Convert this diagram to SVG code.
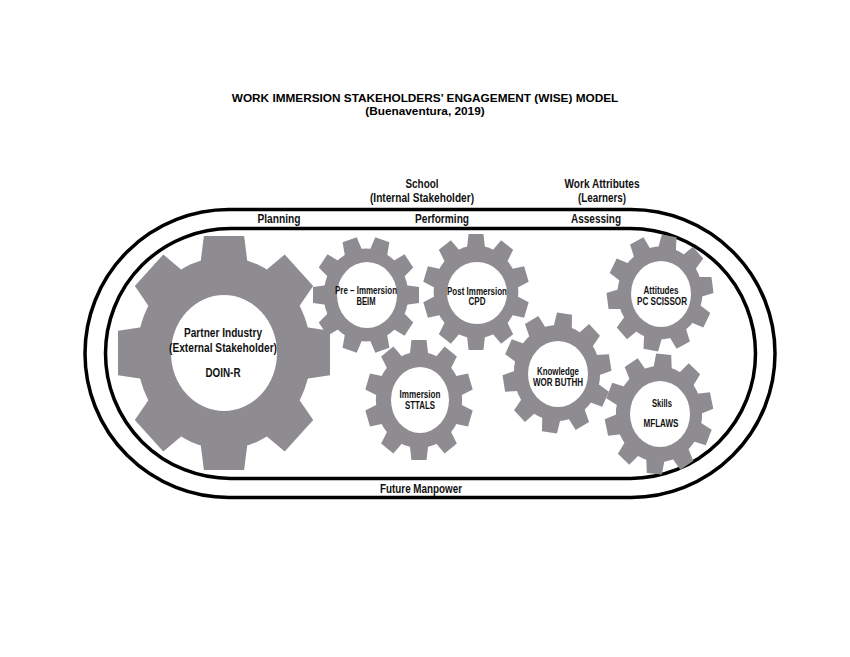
<svg xmlns="http://www.w3.org/2000/svg" xmlns:xlink="http://www.w3.org/1999/xlink" width="850" height="657" viewBox="0 0 850 657">
  <style>
    .title { font-family: "Liberation Sans", Arial, sans-serif; font-weight: bold; font-size: 11.8px; fill: #000; text-anchor: middle; }
    .lbl { font-family: "Liberation Sans", Arial, sans-serif; font-weight: bold; font-size: 12px; fill: #111; text-anchor: middle; }
    .big { font-family: "Liberation Sans", Arial, sans-serif; font-weight: bold; font-size: 13px; fill: #111; text-anchor: middle; }
    .gt { font-family: "Liberation Sans", Arial, sans-serif; font-weight: bold; font-size: 10px; fill: #111; text-anchor: middle; }
    .track { fill: none; stroke: #000; stroke-width: 3.5; }
    .gear { fill: #8e8c90; }
    .hole { fill: #fff; }
  </style>
  <defs>
    <polygon id="toothL" points="-22,-78 -19,-100 19,-100 22,-78"/>
    <polygon id="toothS" points="-17,-76 -14,-100 14,-100 17,-76"/>
    <g id="gear8">
      <circle r="82"/>
      <use xlink:href="#toothL" transform="rotate(0)"/>
      <use xlink:href="#toothL" transform="rotate(45)"/>
      <use xlink:href="#toothL" transform="rotate(90)"/>
      <use xlink:href="#toothL" transform="rotate(135)"/>
      <use xlink:href="#toothL" transform="rotate(180)"/>
      <use xlink:href="#toothL" transform="rotate(225)"/>
      <use xlink:href="#toothL" transform="rotate(270)"/>
      <use xlink:href="#toothL" transform="rotate(315)"/>
    </g>
    <g id="gear10">
      <circle r="80"/>
      <use xlink:href="#toothS" transform="rotate(0)"/>
      <use xlink:href="#toothS" transform="rotate(36)"/>
      <use xlink:href="#toothS" transform="rotate(72)"/>
      <use xlink:href="#toothS" transform="rotate(108)"/>
      <use xlink:href="#toothS" transform="rotate(144)"/>
      <use xlink:href="#toothS" transform="rotate(180)"/>
      <use xlink:href="#toothS" transform="rotate(216)"/>
      <use xlink:href="#toothS" transform="rotate(252)"/>
      <use xlink:href="#toothS" transform="rotate(288)"/>
      <use xlink:href="#toothS" transform="rotate(324)"/>
    </g>
  </defs>

  <rect width="850" height="657" fill="#fff"/>

  <g id="title">
    <text class="title" x="425" y="102">WORK IMMERSION STAKEHOLDERS’ ENGAGEMENT (WISE) MODEL</text>
    <text class="title" x="425" y="115">(Buenaventura, 2019)</text>
  </g>

  <g id="top-labels">
    <text class="lbl" x="422" y="188" textLength="33" lengthAdjust="spacingAndGlyphs">School</text>
    <text class="lbl" x="422" y="202" textLength="104" lengthAdjust="spacingAndGlyphs">(Internal Stakeholder)</text>
    <text class="lbl" x="602" y="188" textLength="75" lengthAdjust="spacingAndGlyphs">Work Attributes</text>
    <text class="lbl" x="602" y="202" textLength="48" lengthAdjust="spacingAndGlyphs">(Learners)</text>
  </g>

  <g id="connectors">
    <rect class="track" x="85" y="209.5" width="690" height="288" rx="144" ry="144"/>
    <rect class="track" x="105.5" y="228.5" width="650" height="250" rx="125" ry="125"/>
  </g>

  <g id="stages">
    <text class="lbl" x="279" y="223" textLength="43" lengthAdjust="spacingAndGlyphs">Planning</text>
    <text class="lbl" x="442" y="223" textLength="54" lengthAdjust="spacingAndGlyphs">Performing</text>
    <text class="lbl" x="596" y="223" textLength="50" lengthAdjust="spacingAndGlyphs">Assessing</text>
    <text class="lbl" x="421" y="493" textLength="82" lengthAdjust="spacingAndGlyphs">Future Manpower</text>
  </g>

  <g id="gear-partner">
    <g class="gear" transform="translate(224,353) scale(1.06,1.17)"><use xlink:href="#gear8"/></g>
    <ellipse class="hole" cx="224" cy="353" rx="53" ry="58"/>
    <text class="big" x="223" y="337" textLength="78" lengthAdjust="spacingAndGlyphs">Partner Industry</text>
    <text class="big" x="223" y="352" textLength="108" lengthAdjust="spacingAndGlyphs">(External Stakeholder)</text>
    <text class="big" x="223" y="377" textLength="35" lengthAdjust="spacingAndGlyphs">DOIN-R</text>
  </g>

  <g id="gear-pre">
    <g class="gear" transform="translate(366,295) scale(0.53,0.58) rotate(18)"><use xlink:href="#gear10"/></g>
    <ellipse class="hole" cx="367" cy="295" rx="30" ry="33"/>
    <text class="gt" x="366" y="294" textLength="62" lengthAdjust="spacingAndGlyphs">Pre – Immersion</text>
    <text class="gt" x="366" y="305" textLength="19" lengthAdjust="spacingAndGlyphs">BEIM</text>
  </g>

  <g id="gear-post">
    <g class="gear" transform="translate(476,292) scale(0.53,0.58) rotate(0)"><use xlink:href="#gear10"/></g>
    <ellipse class="hole" cx="477" cy="293" rx="30" ry="31"/>
    <text class="gt" x="477" y="295" textLength="60" lengthAdjust="spacingAndGlyphs">Post Immersion</text>
    <text class="gt" x="477" y="305" textLength="17" lengthAdjust="spacingAndGlyphs">CPD</text>
  </g>

  <g id="gear-immersion">
    <g class="gear" transform="translate(419,400) scale(0.54,0.6) rotate(0)"><use xlink:href="#gear10"/></g>
    <ellipse class="hole" cx="420" cy="400" rx="29" ry="33"/>
    <text class="gt" x="420" y="398" textLength="41" lengthAdjust="spacingAndGlyphs">Immersion</text>
    <text class="gt" x="420" y="409" textLength="30" lengthAdjust="spacingAndGlyphs">STTALS</text>
  </g>

  <g id="gear-knowledge">
    <g class="gear" transform="translate(557,373) scale(0.54,0.6) rotate(8)"><use xlink:href="#gear10"/></g>
    <ellipse class="hole" cx="558" cy="374" rx="30" ry="33"/>
    <text class="gt" x="558" y="375" textLength="42" lengthAdjust="spacingAndGlyphs">Knowledge</text>
    <text class="gt" x="558" y="386" textLength="50" lengthAdjust="spacingAndGlyphs">WOR BUTHH</text>
  </g>

  <g id="gear-attitudes">
    <g class="gear" transform="translate(660,293) scale(0.53,0.58) rotate(10)"><use xlink:href="#gear10"/></g>
    <ellipse class="hole" cx="661" cy="294" rx="30" ry="33"/>
    <text class="gt" x="661" y="294" textLength="35" lengthAdjust="spacingAndGlyphs">Attitudes</text>
    <text class="gt" x="662" y="305" textLength="50" lengthAdjust="spacingAndGlyphs">PC SCISSOR</text>
  </g>

  <g id="gear-skills">
    <g class="gear" transform="translate(659,414) scale(0.54,0.6) rotate(5)"><use xlink:href="#gear10"/></g>
    <ellipse class="hole" cx="660" cy="414" rx="30" ry="33"/>
    <text class="gt" x="662" y="407" textLength="20" lengthAdjust="spacingAndGlyphs">Skills</text>
    <text class="gt" x="661" y="427" textLength="35" lengthAdjust="spacingAndGlyphs">MFLAWS</text>
  </g>
</svg>
